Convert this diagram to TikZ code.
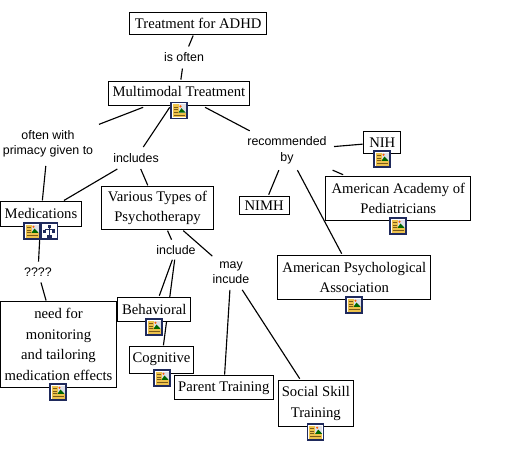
\documentclass[tikz,border=0pt]{standalone}
\usepackage{fontspec}
\setmainfont{Liberation Serif}
\newfontfamily\lblfont{Liberation Sans}
\usetikzlibrary{backgrounds}
\definecolor{icnavy}{HTML}{1F2A5C}
\definecolor{icyellow}{HTML}{EDC24C}
\definecolor{icbrown}{HTML}{7A5A18}
\tikzset{
  concept/.style={draw=black,line width=0.75pt,fill=white,inner sep=0pt,outer sep=1pt,align=center,
    font=\fontsize{11pt}{15.4pt}\selectfont},
  linklabel/.style={inner sep=0pt,outer sep=0pt,align=center,
    font=\lblfont\fontsize{9.3pt}{11.6pt}\selectfont},
  link/.style={line width=0.85pt,black},
  iconbox/.style={draw=icnavy,line width=0.8pt,minimum width=12pt,minimum height=12pt,inner sep=0pt,outer sep=0pt},
}
\newcommand{\photoicon}[3]{%
  \node[iconbox,fill=white] (#1) at (#2,#3) {};
  \begin{scope}[shift={(#1.center)}]
    \fill[icyellow] (-6.5,-6.5) rectangle (6.5,6.5);
    \fill[white!85!icnavy] (-0.5,-6.5) rectangle (6.5,1.8);
    \fill[green!40!black] (-0.5,1.8) -- (2.5,-2.5) -- (6.5,1.8) -- cycle;
    \fill[orange!70!red] (1.5,-4.3) circle (1.2);
    \draw[icbrown,line width=0.5pt] (-5.5,-3.5) -- (-1.5,-3.5) (-5.5,-1) -- (-1.5,-1) (-5.5,1.5) -- (-1.5,1.5) (-5.5,4.2) -- (5.5,4.2);
  \end{scope}
}
\newcommand{\treeicon}[3]{%
  \node[iconbox,fill=white] (#1) at (#2,#3) {};
  \begin{scope}[shift={(#1.center)}]
    \fill[icnavy] (-1.5,-6.5) rectangle (1.5,-3.5);
    \fill[icnavy] (-6,-1) rectangle (-3,2);
    \fill[icnavy] (3,-1) rectangle (6,2);
    \fill[icnavy] (-2.5,3.5) rectangle (2.5,6.5);
    \draw[icnavy,line width=0.4pt] (0,-3.5) -- (0,3.5) (-4.5,-1) -- (-4.5,-2.2) -- (4.5,-2.2) -- (4.5,-1);
  \end{scope}
}
\begin{document}
\begin{tikzpicture}[x=0.75pt,y=-0.75pt]
\useasboundingbox (0,0) rectangle (510,468);
% concepts
\node[concept,minimum width=103pt,minimum height=16pt] (adhd) at (198.2,23.5) {Treatment for ADHD};
\node[concept,minimum width=106pt,minimum height=18.7pt,text depth=3pt] (multi) at (178.9,93.5) {Multimodal Treatment};
\node[concept,minimum width=61pt,minimum height=18.3pt,text depth=1.5pt] (meds) at (41,214) {Medications};
\node[concept,minimum width=84.5pt,minimum height=32pt] (psycho) at (157.5,208) {Various Types of\\Psychotherapy};
\node[concept,minimum width=87pt,minimum height=64pt] (need) at (58.5,344.5) {need for\\monitoring\\and tailoring\\medication effects};
\node[concept,minimum width=54.5pt,minimum height=18.7pt] (behav) at (154.3,309.5) {Behavioral};
\node[concept,minimum width=48.7pt,minimum height=20pt,text depth=4pt] (cogn) at (161.5,360) {Cognitive};
\node[concept,minimum width=74.7pt,minimum height=17.3pt,text height=9pt] (parent) at (223.8,387.5) {Parent Training};
\node[concept,minimum width=56.7pt,minimum height=35.2pt] (social) at (315.8,403.5) {Social Skill\\Training};
\node[concept,minimum width=114.5pt,minimum height=33.7pt] (apa) at (354.3,277.5) {American Psychological\\Association};
\node[concept,minimum width=108.5pt,minimum height=33.7pt] (aap) at (398.3,198.5) {American Academy of\\Pediatricians};
\node[concept,minimum width=27.5pt,minimum height=17.2pt] (nih) at (382.3,142.5) {NIH};
\node[concept,minimum width=37.2pt,minimum height=14.2pt] (nimh) at (264.2,205.5) {NIMH};
% linking phrases
\node[linklabel,minimum width=27pt,minimum height=16.5pt] (isoften) at (184,57.5) {is often};
\node[linklabel,minimum width=76.5pt,minimum height=33pt] (primacy) at (48,144) {often with\\primacy given to};
\node[linklabel,minimum width=39pt,minimum height=16.5pt] (includes) at (136,158) {includes};
\node[linklabel,minimum width=70.5pt,minimum height=29.5pt] (recom) at (287,150.5) {recommended\\by};
\node[linklabel,minimum width=30pt,minimum height=15.7pt] (qqqq) at (38,272) {????};
\node[linklabel,minimum width=30pt,minimum height=15pt] (incl) at (176,249.7) {include};
\node[linklabel,minimum width=28pt,minimum height=26pt] (may) at (231,272.5) {may\\incude};
% icons
\photoicon{imulti}{179}{110.7}
\photoicon{imeds}{32}{231}
\treeicon{itree}{49.3}{231}
\photoicon{ineed}{58}{392}
\photoicon{ibehav}{154}{327}
\photoicon{icogn}{162}{378}
\photoicon{isocial}{315.7}{432}
\photoicon{iapa}{354}{305}
\photoicon{iaap}{398}{226}
\photoicon{inih}{382}{159}
% connectors
\begin{pgfonlayer}{background}
\draw[link] (adhd) -- (isoften);
\draw[link] (isoften) -- (multi);
\draw[link] (multi) -- (primacy);
\draw[link] (primacy) -- (meds);
\draw[link] (multi) -- (includes);
\draw[link] (includes) -- (meds);
\draw[link] (includes) -- (psycho);
\draw[link] (multi) -- (recom);
\draw[link] (recom) -- (nih);
\draw[link] (recom) -- (aap);
\draw[link] (recom) -- (nimh);
\draw[link] (recom) -- (apa);
\draw[link] (meds) -- (qqqq);
\draw[link] (qqqq) -- (need);
\draw[link] (psycho) -- (incl);
\draw[link] (incl) -- (behav);
\draw[link] (incl) -- (cogn);
\draw[link] (psycho) -- (may);
\draw[link] (may) -- (parent);
\draw[link] (may) -- (social);
\end{pgfonlayer}
\end{tikzpicture}
\end{document}
